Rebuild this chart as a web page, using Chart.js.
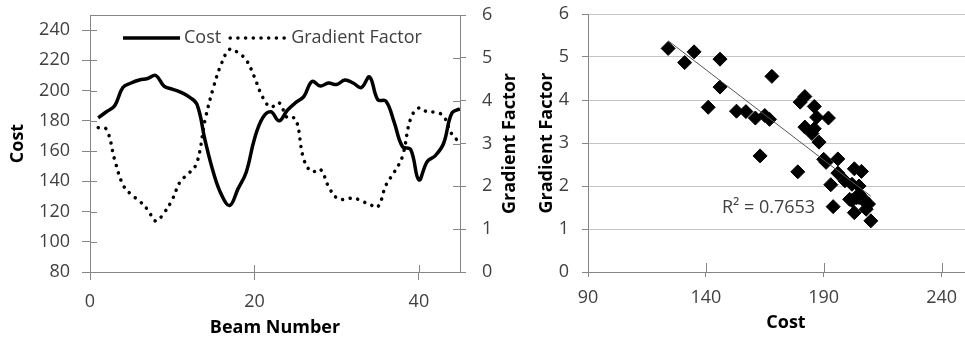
<!DOCTYPE html>
<html>
<head>
<meta charset="utf-8">
<script src="https://cdn.jsdelivr.net/npm/chart.js@4.4.1/dist/chart.umd.min.js"></script>
<style>
  html, body { margin: 0; padding: 0; background: #fff; overflow: hidden; }
  #wrap { position: relative; width: 965px; height: 339px; overflow: hidden; }
  #lineChart { position: absolute; left: 0; top: 0; }
  #scatterChart { position: absolute; left: 525px; top: 0; }
</style>
</head>
<body>
<div id="wrap">
  <canvas id="lineChart" width="525" height="339"></canvas>
  <canvas id="scatterChart" width="467" height="339"></canvas>
</div>
<script>
// beam-by-beam results
const beamNumbers = [1, 2, 3, 4, 5, 6, 7, 8, 9, 10, 11, 12, 13, 14, 15, 16, 17, 18, 19, 20, 21, 22, 23,
  24, 25, 26, 27, 28, 29, 30, 31, 32, 33, 34, 35, 36, 37, 38, 39, 40, 41, 42, 43, 44, 45];
const cost = [182, 186, 190, 202, 205, 207, 208, 210, 203, 201, 199, 196, 191, 167, 146, 131, 124, 135, 146, 168, 182, 186, 180,
  187, 192, 196, 206, 203, 205, 204, 207, 205, 202, 209, 194, 193, 179, 163, 161, 141, 153, 157, 165, 185, 188];
const gradientFactor = [3.37, 3.33, 2.62, 2.04, 1.81, 1.66, 1.46, 1.19, 1.38, 1.69, 2.12, 2.30, 2.55, 3.55, 4.30, 4.87, 5.20, 5.12, 4.95, 4.55, 4.08, 3.85, 3.95,
  3.60, 3.58, 2.63, 2.34, 2.40, 2.00, 1.73, 1.69, 1.73, 1.66, 1.58, 1.52, 2.03, 2.33, 2.70, 3.58, 3.83, 3.74, 3.73, 3.64, 3.22, 3.02];
const scatterCostTicks = [90, 140, 190, 240];
const rSquaredText = 'R² = 0.7653';

const axisGray = '#868686';
const gridGray = '#c4c4c4';
const labelGray = '#404040';
const tickFont = { family: 'Open Sans', size: 18 };
const titleFont = { family: 'Open Sans', size: 18, weight: 'bold' };

// fixed axis box sizes; label overhang is not allowed to push the plot area
const fixWidth = w => s => { s.width = w; s.paddingTop = 0; s.paddingBottom = 0; };
const fixHeight = h => s => { s.height = h; s.paddingLeft = 0; s.paddingRight = 0; };

// second half of the tick marks, drawn inside the plot so they cross the axis
const innerTicks = {
  id: 'innerTicks',
  beforeDatasetsDraw(chart, args, opts) {
    const ctx = chart.ctx;
    ctx.save();
    ctx.strokeStyle = axisGray;
    ctx.lineWidth = 1;
    (opts.axes || []).forEach(({ id, len }) => {
      const s = chart.scales[id];
      s.ticks.forEach((t, i) => {
        const p = Math.round(s.getPixelForTick(i)) + 0.5;
        ctx.beginPath();
        if (s.isHorizontal()) {
          ctx.moveTo(p, s.top); ctx.lineTo(p, s.top - len);
        } else if (s.position === 'left') {
          ctx.moveTo(s.right, p); ctx.lineTo(s.right + len, p);
        } else {
          ctx.moveTo(s.left, p); ctx.lineTo(s.left - len, p);
        }
        ctx.stroke();
      });
    });
    ctx.restore();
  }
};

// top edge of the plot box
const plotFrame = {
  id: 'plotFrame',
  beforeDatasetsDraw(chart, args, opts) {
    if (!opts.top) return;
    const { ctx, chartArea: a } = chart;
    ctx.save();
    ctx.strokeStyle = axisGray;
    ctx.lineWidth = 1;
    ctx.beginPath();
    ctx.moveTo(a.left, Math.round(a.top) + 0.5);
    ctx.lineTo(a.right, Math.round(a.top) + 0.5);
    ctx.stroke();
    ctx.restore();
  }
};

// right-hand axis title, reading upwards like the left one
const sideTitle = {
  id: 'sideTitle',
  afterDraw(chart, args, opts) {
    if (!opts.text) return;
    const { ctx, chartArea: a } = chart;
    ctx.save();
    ctx.font = 'bold 18px "Open Sans"';
    ctx.fillStyle = '#000';
    ctx.textAlign = 'center';
    ctx.textBaseline = 'middle';
    ctx.translate(opts.x, (a.top + a.bottom) / 2);
    ctx.rotate(-Math.PI / 2);
    ctx.fillText(opts.text, 0, 0);
    ctx.restore();
  }
};

// legend laid inside the plot, line sample then label
const insideLegend = {
  id: 'insideLegend',
  afterDraw(chart, args, opts) {
    if (!opts.display) return;
    const { ctx, chartArea: a } = chart;
    let x = a.left + opts.x;
    const y = a.top + opts.y;
    ctx.save();
    ctx.font = '18px "Open Sans"';
    ctx.textBaseline = 'middle';
    chart.data.datasets.forEach(ds => {
      ctx.strokeStyle = ds.borderColor;
      ctx.lineWidth = ds.borderWidth;
      ctx.lineCap = ds.borderCapStyle || 'butt';
      ctx.setLineDash(ds.borderDash || []);
      ctx.beginPath();
      ctx.moveTo(x, y);
      ctx.lineTo(x + opts.sample, y);
      ctx.stroke();
      ctx.setLineDash([]);
      x += opts.sample + 4;
      ctx.fillStyle = labelGray;
      ctx.fillText(ds.label, x, y);
      x += ctx.measureText(ds.label).width + 9;
    });
    ctx.restore();
  }
};

// R² note beside the trendline
const fitNote = {
  id: 'fitNote',
  afterDraw(chart, args, opts) {
    if (!opts.text) return;
    const { ctx, scales } = chart;
    ctx.save();
    ctx.font = '18px "Open Sans"';
    ctx.fillStyle = labelGray;
    ctx.textAlign = 'center';
    ctx.textBaseline = 'middle';
    ctx.fillText(opts.text, scales.x.getPixelForValue(opts.x), scales.y.getPixelForValue(opts.y));
    ctx.restore();
  }
};

// Cost and Gradient Factor along the beams
new Chart(document.getElementById('lineChart'), {
  type: 'line',
  data: {
    datasets: [{
      label: 'Cost',
      data: beamNumbers.map((b, i) => ({ x: b, y: cost[i] })),
      yAxisID: 'y',
      borderColor: '#000',
      borderWidth: 3.5,
      pointRadius: 0,
      tension: 0.4
    }, {
      label: 'Gradient Factor',
      data: beamNumbers.map((b, i) => ({ x: b, y: gradientFactor[i] })),
      yAxisID: 'y1',
      borderColor: '#000',
      borderWidth: 3.5,
      borderDash: [0.1, 7.6],
      borderCapStyle: 'round',
      pointRadius: 0,
      tension: 0.4
    }]
  },
  plugins: [innerTicks, plotFrame, insideLegend, sideTitle],
  options: {
    responsive: false,
    animation: false,
    layout: { padding: { top: 15, left: 0, right: 0, bottom: 0 } },
    plugins: {
      legend: { display: false },
      tooltip: { enabled: false },
      innerTicks: { axes: [{ id: 'x', len: 7 }, { id: 'y', len: 7 }, { id: 'y1', len: 7 }] },
      plotFrame: { top: true },
      insideLegend: { display: true, x: 33, y: 23, sample: 57 },
      sideTitle: { text: 'Gradient Factor', x: 510 }
    },
    scales: {
      x: {
        type: 'linear',
        position: 'bottom',
        min: 0,
        max: 45,
        ticks: { stepSize: 20, includeBounds: false, font: tickFont, color: labelGray, padding: 11, maxRotation: 0 },
        grid: { drawOnChartArea: false, color: axisGray, tickLength: 8 },
        border: { color: axisGray, width: 1 },
        title: { display: true, text: 'Beam Number', font: titleFont, color: '#000', padding: { top: 0, bottom: 0 } },
        afterFit: fixHeight(67)
      },
      y: {
        position: 'left',
        min: 80,
        max: 250,
        ticks: { stepSize: 20, includeBounds: false, font: tickFont, color: labelGray, padding: 12 },
        grid: { drawOnChartArea: false, color: axisGray, tickLength: 8 },
        border: { color: axisGray, width: 1 },
        title: { display: true, text: 'Cost', font: titleFont, color: '#000', padding: { top: 7, bottom: 0 } },
        afterFit: fixWidth(90)
      },
      y1: {
        position: 'right',
        min: 0,
        max: 6,
        ticks: { stepSize: 1, includeBounds: false, font: tickFont, color: labelGray, padding: 16 },
        grid: { drawOnChartArea: false, color: axisGray, tickLength: 6 },
        border: { color: axisGray, width: 1 },
        title: { display: false },
        afterFit: fixWidth(65)
      }
    }
  }
});

// least-squares fit of Gradient Factor on Cost
const n = cost.length;
const meanX = cost.reduce((a, b) => a + b, 0) / n;
const meanY = gradientFactor.reduce((a, b) => a + b, 0) / n;
let sxy = 0, sxx = 0;
cost.forEach((c, i) => { sxy += (c - meanX) * (gradientFactor[i] - meanY); sxx += (c - meanX) ** 2; });
const slope = sxy / sxx;
const intercept = meanY - slope * meanX;
const costMin = Math.min(...cost);
const costMax = Math.max(...cost);

new Chart(document.getElementById('scatterChart'), {
  type: 'scatter',
  data: {
    datasets: [{
      type: 'line',
      label: 'Linear',
      data: [
        { x: costMin, y: intercept + slope * costMin },
        { x: costMax, y: intercept + slope * costMax }
      ],
      borderColor: '#555555',
      borderWidth: 1,
      pointRadius: 0
    }, {
      label: 'Gradient Factor',
      data: cost.map((c, i) => ({ x: c, y: gradientFactor[i] })),
      pointStyle: 'rectRot',
      pointRadius: 7,
      backgroundColor: '#000',
      borderColor: '#000',
      borderWidth: 1
    }]
  },
  plugins: [innerTicks, fitNote],
  options: {
    responsive: false,
    animation: false,
    layout: { padding: { top: 14, left: 0, right: 0, bottom: 0 } },
    plugins: {
      legend: { display: false },
      tooltip: { enabled: false },
      innerTicks: { axes: [{ id: 'x', len: 9 }] },
      fitNote: { text: rSquaredText, x: 166.6, y: 1.49 }
    },
    scales: {
      x: {
        type: 'linear',
        min: 90,
        max: 258,
        afterBuildTicks: s => { s.ticks = scatterCostTicks.map(v => ({ value: v })); },
        ticks: { font: tickFont, color: labelGray, padding: 10, maxRotation: 0 },
        grid: { drawOnChartArea: false, color: axisGray, tickLength: 5 },
        border: { color: axisGray, width: 1 },
        title: { display: true, text: 'Cost', font: titleFont, color: '#000', padding: { top: 0, bottom: 5 } },
        afterFit: fixHeight(67)
      },
      y: {
        min: 0,
        max: 6,
        ticks: { stepSize: 1, font: tickFont, color: labelGray, padding: 13 },
        grid: { color: gridGray, tickColor: axisGray, tickLength: 6 },
        border: { color: axisGray, width: 1 },
        title: { display: true, text: 'Gradient Factor', font: titleFont, color: '#000', padding: { top: 11, bottom: 0 } },
        afterFit: fixWidth(63)
      }
    }
  }
});
</script>
</body>
</html>
